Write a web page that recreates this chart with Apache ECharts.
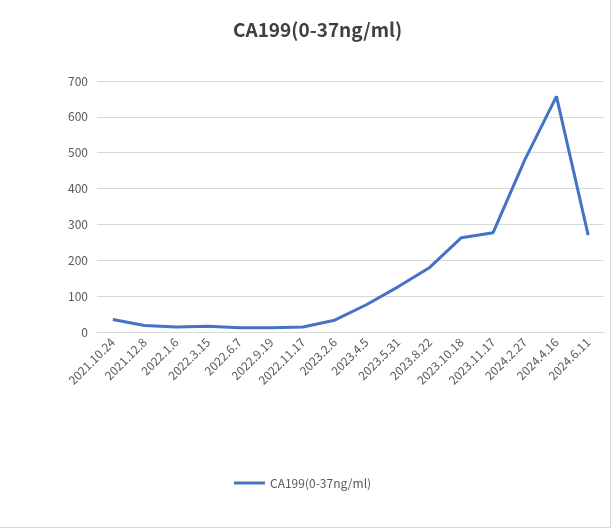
<!DOCTYPE html>
<html><head><meta charset="utf-8">
<script src="https://cdn.jsdelivr.net/npm/echarts@6/dist/echarts.min.js"></script>
<style>html,body{margin:0;padding:0;background:#fff;}#c{width:610px;height:527px;border-right:1px solid #d9d9d9;border-bottom:1px solid #d9d9d9;}</style>
</head><body><div id="c"></div>
<script>
var categories = ['2021.10.24','2021.12.8','2022.1.6','2022.3.15','2022.6.7','2022.9.19','2022.11.17','2023.2.6','2023.4.5','2023.5.31','2023.8.22','2023.10.18','2023.11.17','2024.2.27','2024.4.16','2024.6.11'];
var values = [35, 18, 14, 16, 12, 12, 14, 33, 76, 126, 180, 263, 277, 480, 657, 270];
var seriesName = 'CA199(0-37ng/ml)';
var yTicks = {min: 0, max: 700, interval: 100};
var font = '"Noto Sans CJK SC", "Noto Sans", sans-serif';
var chart = echarts.init(document.getElementById('c'));
chart.setOption({
  animation: false,
  title: {text: seriesName, left: 228, top: 15, textStyle: {fontFamily: font, fontSize: 19, fontWeight: 'bold', color: '#404040'}},
  legend: {top: 477, left: 234, padding: 0, itemWidth: 31, itemHeight: 3, itemGap: 4, icon: 'rect', textStyle: {fontFamily: font, fontSize: 12, color: '#595959'}, data: [seriesName]},
  grid: {left: 97, right: 6, top: 81, bottom: 195, containLabel: false},
  xAxis: {type: 'category', data: categories, boundaryGap: true,
    axisLine: {lineStyle: {color: '#d9d9d9'}}, axisTick: {show: false},
    axisLabel: {rotate: 45, interval: 0, fontFamily: font, fontSize: 12, color: '#595959', margin: 8}},
  yAxis: {type: 'value', min: yTicks.min, max: yTicks.max, interval: yTicks.interval,
    axisLine: {show: false}, axisTick: {show: false},
    splitLine: {lineStyle: {color: '#d9d9d9'}},
    axisLabel: {fontFamily: font, fontSize: 12, color: '#595959', margin: 9}},
  series: [{name: seriesName, type: 'line', data: values, symbol: 'none', smooth: false,
    lineStyle: {width: 3, color: '#4472C4'}, itemStyle: {color: '#4472C4'}}]
});
</script></body></html>
